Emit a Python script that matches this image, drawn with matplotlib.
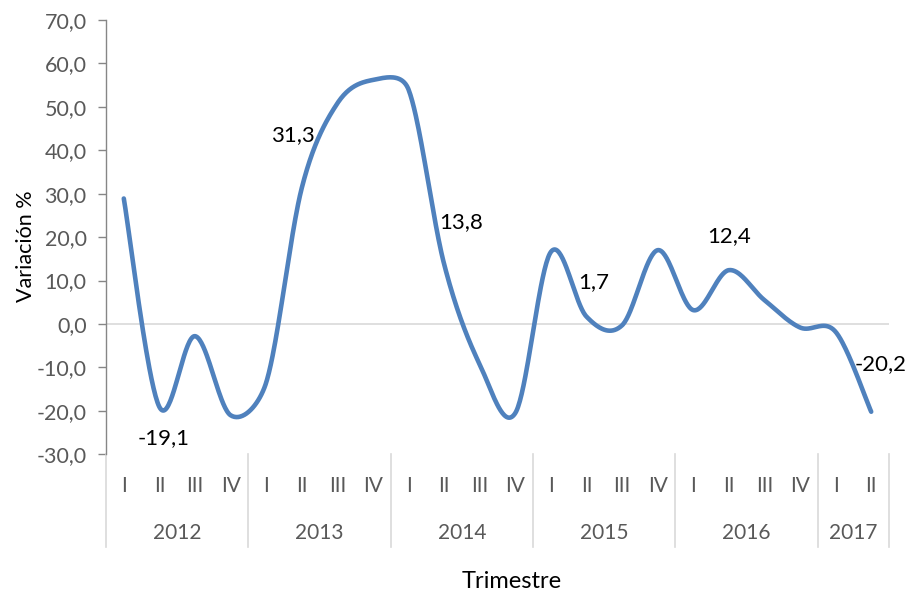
import numpy as np
import matplotlib
matplotlib.use("Agg")
import matplotlib.pyplot as plt
import matplotlib.transforms as mtransforms

plt.rcParams['font.family'] = ['Lato', 'DejaVu Sans']

# quarterly variation (%)
years = ['2012', '2013', '2014', '2015', '2016', '2017']
quarters_per_year = [4, 4, 4, 4, 4, 2]
quarter_names = ['I', 'II', 'III', 'IV']
variacion = [28.9, -19.1, -2.8, -21.0,
             -13.5, 31.3, 50.8, 56.2,
             54.0, 13.8, -9.3, -20.5,
             16.6, 1.7, -0.3, 17.0,
             3.2, 12.4, 5.5, -0.8,
             -1.8, -20.2]
# which points carry a data label, and where the label sits (pixels from point)
label_idx = [1, 5, 9, 13, 17, 21]
label_off = [(4, -31), (-9, 53), (17, 42), (7, 35), (0, 34), (9, 48)]

blue = '#4f81bd'
grey_txt = '#595959'

quarters = []
for n in quarters_per_year:
    quarters += quarter_names[:n]
x = np.arange(len(variacion))

fig = plt.figure(figsize=(9.1, 5.96), dpi=100)
ax = fig.add_axes([106 / 910, 1 - 454.3 / 596, 783 / 910, 434.3 / 596])
ax.set_xlim(-0.5, len(x) - 0.5)
ax.set_ylim(-30, 70)


def excel_smooth(xs, ys, n=40):
    # smoothed line like the spreadsheet one: bezier with 1/6 arms,
    # arms capped at half the segment length (in screen space)
    pts = ax.transData.transform(np.column_stack([xs, ys]))
    out = []
    for i in range(len(pts) - 1):
        p1, p2 = pts[i], pts[i + 1]
        p0 = pts[i - 1] if i > 0 else p1
        p3 = pts[i + 2] if i + 2 < len(pts) else p2
        d12 = np.hypot(*(p2 - p1))
        d02 = np.hypot(*(p2 - p0))
        d13 = np.hypot(*(p3 - p1))
        f0 = 1 / 6 if d02 / 6 < d12 / 2 else d12 / (2 * d02)
        f1 = 1 / 6 if d13 / 6 < d12 / 2 else d12 / (2 * d13)
        b1 = p1 + (p2 - p0) * f0
        b2 = p2 - (p3 - p1) * f1
        t = np.linspace(0, 1, n)[:, None]
        seg = (1 - t) ** 3 * p1 + 3 * (1 - t) ** 2 * t * b1 + 3 * (1 - t) * t ** 2 * b2 + t ** 3 * p2
        out.append(seg if i == 0 else seg[1:])
    return ax.transData.inverted().transform(np.vstack(out))


# zero line (category axis)
ax.axhline(0, color='#d9d9d9', lw=1.2, zorder=1)

curve = excel_smooth(x, variacion)
ax.plot(curve[:, 0], curve[:, 1], color=blue, lw=3.3, solid_capstyle='round', zorder=3)

for i, (dx, dy) in zip(label_idx, label_off):
    ax.annotate(f"{variacion[i]:.1f}".replace('.', ','), (x[i], variacion[i]),
                xytext=(dx, dy), textcoords='offset pixels',
                ha='center', va='center', fontsize=16, color='black', zorder=4)

# value axis
ax.set_yticks(np.arange(-30, 71, 10))
ax.set_yticklabels([f"{v:.1f}".replace('.', ',') for v in np.arange(-30, 71, 10)])
ax.tick_params(axis='y', length=6, width=1, color='#868686', labelcolor=grey_txt,
               labelsize=15.5, pad=8)
fig.text(26 / 910, 1 - 246 / 596, 'Variación %', rotation=90, ha='center', va='center',
         fontsize=15.5, color='black')

for s in ['top', 'right', 'bottom']:
    ax.spines[s].set_visible(False)
ax.spines['left'].set_color('#868686')
ax.spines['left'].set_linewidth(1)

# multi-level category axis
ax.set_xticks([])
trans = mtransforms.blended_transform_factory(ax.transData, ax.transAxes)
for xi, q in zip(x, quarters):
    ax.text(xi, -0.073, q, transform=trans, ha='center', va='center',
            fontsize=15, color=grey_txt)
start = 0
seps = [-0.5]
for yr, n in zip(years, quarters_per_year):
    ax.text(start + (n - 1) / 2, -0.1806, yr, transform=trans, ha='center', va='center',
            fontsize=15, color=grey_txt)
    start += n
    seps.append(start - 0.5)
for sx in seps:
    ax.plot([sx, sx], [0, -0.213], transform=trans, color='#d9d9d9', lw=1.2, clip_on=False)

fig.text(512 / 910, 1 - 582 / 596, 'Trimestre', ha='center', va='center', fontsize=17, color='black')

fig.savefig('out.png', dpi=100)
